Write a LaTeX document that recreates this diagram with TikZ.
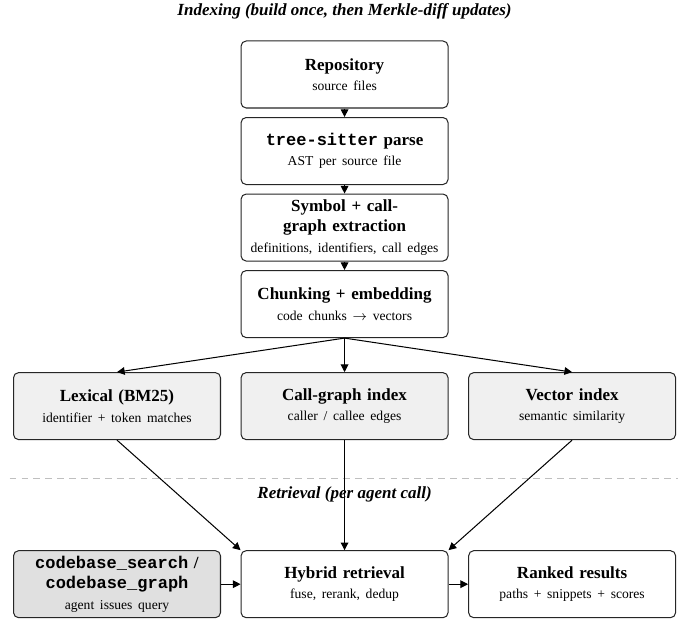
\documentclass[tikz,border=0pt]{standalone}
\usepackage{fontspec}
\setmainfont{Liberation Serif}
\setmonofont{Liberation Mono}
\usetikzlibrary{arrows.meta, positioning, calc}
\tikzset{
  stage/.style={
    rectangle, rounded corners=3pt, draw=black!85, fill=white,
    line width=0.6pt, minimum width=121.7pt, minimum height=39.4pt,
    text width=115pt, align=center, inner sep=3pt
  },
  index/.style={stage, fill=black!6},
  query/.style={stage, fill=black!12},
  phase/.style={font=\bfseries\itshape},
  divider/.style={draw=black!25, line width=0.6pt, dash pattern=on 4pt off 3pt},
  arrow/.style={line width=0.6pt, -{Triangle[length=4.5pt, width=4.5pt]}},
}

\begin{document}
\begin{tikzpicture}[node distance=5pt and 11.5pt]
  \node (repo)    [stage]                    {\textbf{Repository}\\{\footnotesize source files}};
  \node (parse)   [stage, below=of repo]     {\texttt{\textbf{tree-sitter}} \textbf{parse}\\{\footnotesize AST per source file}};
  \node (symbols) [stage, below=of parse]    {\textbf{Symbol + call-}\\\textbf{graph extraction}\\{\footnotesize definitions, identifiers, call edges}};
  \node (chunk)   [stage, below=of symbols]  {\textbf{Chunking + embedding}\\{\footnotesize code chunks $\rightarrow$ vectors}};
  \node (callidx) [index, below=20pt of chunk]   {\textbf{Call-graph index}\\{\footnotesize caller / callee edges}};
  \node (lexical) [index, left=of callidx]       {\textbf{Lexical (BM25)}\\{\footnotesize identifier + token matches}};
  \node (vecidx)  [index, right=of callidx]      {\textbf{Vector index}\\{\footnotesize semantic similarity}};
  \node (hybrid)  [stage, below=64.7pt of callidx] {\textbf{Hybrid retrieval}\\{\footnotesize fuse, rerank, dedup}};
  \node (query)   [query, left=of hybrid]        {\texttt{\textbf{codebase\_search}} \textbf{/}\\\texttt{\textbf{codebase\_graph}}\\{\footnotesize agent issues query}};
  \node (ranked)  [stage, right=of hybrid]       {\textbf{Ranked results}\\{\footnotesize paths + snippets + scores}};

  \node (idxlabel) [phase, above=9pt of repo]    {Indexing (build once, then Merkle-diff updates)};
  \node (retlabel) [phase, above=25pt of hybrid] {Retrieval (per agent call)};

  % separator between the two phases
  \coordinate (sepL) at ($(lexical.south west)+(-2pt,-22.4pt)$);
  \coordinate (sepR) at ($(vecidx.south east)+(1pt,-22.4pt)$);
  \draw [divider] (sepL) -- (sepR);

  \draw [arrow] (repo)    -- (parse);
  \draw [arrow] (parse)   -- (symbols);
  \draw [arrow] (symbols) -- (chunk);
  \draw [arrow] (chunk.south) -- (lexical.north);
  \draw [arrow] (chunk.south) -- (callidx.north);
  \draw [arrow] (chunk.south) -- (vecidx.north);
  \draw [arrow] (lexical.south) -- (hybrid.north west);
  \draw [arrow] (callidx.south) -- (hybrid.north);
  \draw [arrow] (vecidx.south)  -- (hybrid.north east);
  \draw [arrow] (query)  -- (hybrid);
  \draw [arrow] (hybrid) -- (ranked);

  \pgfresetboundingbox
  \useasboundingbox ($(repo.center)+(-202.6pt,43.8pt)$) rectangle ($(repo.center)+(199pt,-319.6pt)$);
\end{tikzpicture}
\end{document}
